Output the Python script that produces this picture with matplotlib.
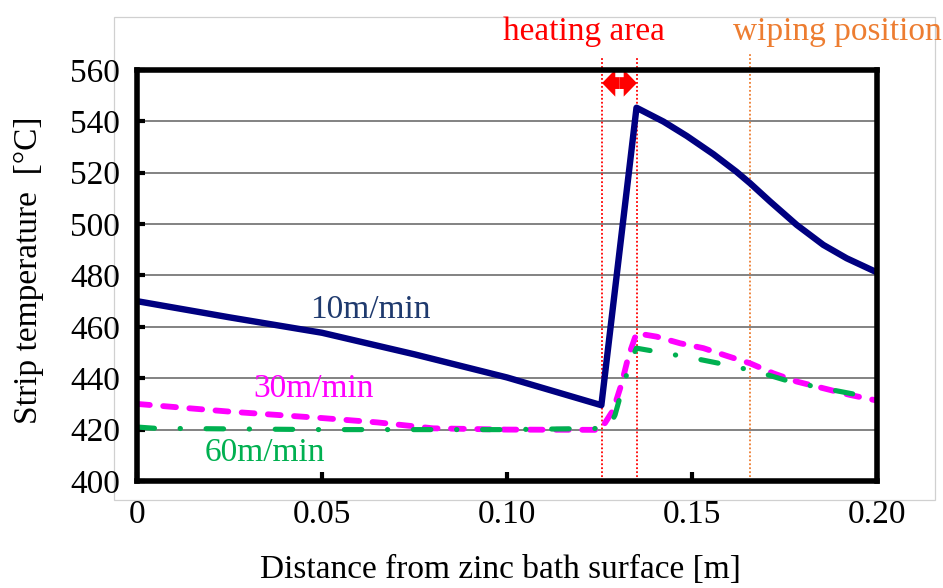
import matplotlib
matplotlib.use("Agg")
import matplotlib.pyplot as plt
from matplotlib.patches import Rectangle

plt.rcParams["font.family"] = ["Liberation Serif", "DejaVu Serif"]

# Strip temperature profiles above the zinc bath for three line speeds
x_10 = [0, 0.025, 0.05, 0.075, 0.1, 0.1255, 0.135, 0.1423, 0.1486, 0.1558, 0.162,
        0.1657, 0.1711, 0.1783, 0.1855, 0.1918, 0.2]
t_10 = [470, 463.7, 457.7, 449.3, 440.3, 429.5, 545.3, 539.9, 534.3, 527.2, 520.4,
        515.9, 508.8, 499.7, 491.9, 486.7, 481.2]

x_30 = [0, 0.025, 0.05, 0.065, 0.08, 0.1, 0.1253, 0.1287, 0.131, 0.1328, 0.135,
        0.1404, 0.1468, 0.1531, 0.1594, 0.1657, 0.172, 0.1783, 0.1855, 0.1927, 0.2]
t_30 = [430, 427, 424.5, 422.8, 420.5, 420, 419.9, 427.6, 438, 448.4, 457.5,
        456.2, 453.6, 451.7, 448.7, 445.8, 441.9, 438.7, 436.1, 433.5, 431.3]

x_60 = [0, 0.005, 0.05, 0.1, 0.1274, 0.1292, 0.1312, 0.1337, 0.135, 0.1418, 0.1504,
        0.1594, 0.1675, 0.1765, 0.1855, 0.1949, 0.2]
t_60 = [421, 420.5, 420, 420, 420.5, 425.7, 436.1, 447.8, 451.7, 450, 447.8,
        445.2, 442.6, 438.7, 436.1, 433.5, 432]

heating_start, heating_end = 0.1257, 0.1351
wiping_pos = 0.1657

x_ticks = [0, 0.05, 0.10, 0.15, 0.20]
x_tick_labels = ["0", "0.05", "0.10", "0.15", "0.20"]
y_ticks = [400, 420, 440, 460, 480, 500, 520, 540, 560]

NAVY = "#000080"
MAGENTA = "#FF00FF"
GREEN = "#00B050"
RED = "#FF0000"
ORANGE = "#ED7D31"
FS = 24

fig = plt.figure(figsize=(9.43, 5.88), dpi=100)
ax = fig.add_axes([0.1453, 0.182, 0.7847, 0.699])

# light chart-area frame
fig.add_artist(Rectangle((114 / 943, 1 - 500 / 588), (935 - 114) / 943, (500 - 17) / 588,
                         transform=fig.transFigure, fill=False, edgecolor="#d0d0d0",
                         lw=0.9, zorder=0))

for y in y_ticks[1:-1]:
    ax.axhline(y, color="#606060", lw=1.1, zorder=1)

# heating area and wiping position markers
for xv in (heating_start, heating_end):
    ax.axvline(xv, ymin=0, ymax=1.029, color=RED, lw=1.3, ls=(0, (1, 1.2)),
               clip_on=False, zorder=2)
ax.axvline(wiping_pos, ymin=0, ymax=1.039, color=ORANGE, lw=1.3, ls=(0, (1, 1.2)),
           clip_on=False, zorder=2)

mid = (heating_start + heating_end) / 2
arrow_y = 554.9
for end in (heating_start, heating_end):
    ax.annotate("", xy=(end, arrow_y), xytext=(mid, arrow_y),
                arrowprops=dict(arrowstyle="simple,head_length=0.95,head_width=1.95,tail_width=0.85",
                                color=RED, lw=0, shrinkA=0, shrinkB=0, mutation_scale=10),
                annotation_clip=False, zorder=5)

ax.plot(x_30, t_30, color=MAGENTA, lw=4.2, ls=(0, (2.2, 2.3)),
        dash_capstyle="round", solid_joinstyle="round", zorder=3)
ax.plot(x_60, t_60, color=GREEN, lw=3.7, ls=(0, (3.4, 5.0, 0.05, 5.0)),
        dash_capstyle="round", solid_joinstyle="round", zorder=3)
ax.plot(x_10, t_10, color=NAVY, lw=4.6, solid_joinstyle="round", zorder=4)

ax.set_xlim(0, 0.2)
ax.set_ylim(400, 560)
ax.set_xticks(x_ticks)
ax.set_xticklabels(x_tick_labels)
ax.set_yticks(y_ticks)

for s in ax.spines.values():
    s.set_linewidth(4.0)
    s.set_color("black")
    s.set_zorder(6)

ax.tick_params(axis="y", direction="in", length=6, width=3, labelsize=FS, pad=12)
ax.tick_params(axis="x", direction="in", length=6.5, width=3, labelsize=FS, pad=13)

fig.text(500 / 943, 1 - 578 / 588, "Distance from zinc bath surface [m]", fontsize=FS,
         ha="center", va="baseline")
fig.text(29 / 943, 1 - 270 / 588, "Strip temperature  [°C]", fontsize=FS,
         rotation=90, ha="center", va="center")

ax.text(0.0468, 463.5, "10m/min", color="#1F3A6E", fontsize=FS, ha="left", va="baseline")
ax.text(0.0314, 432.8, "30m/min", color=MAGENTA, fontsize=FS, ha="left", va="baseline")
ax.text(0.0184, 407.8, "60m/min", color=GREEN, fontsize=FS, ha="left", va="baseline")

fig.text(503 / 943, 1 - 40 / 588, "heating area", color=RED, fontsize=FS,
         ha="left", va="baseline")
fig.text(733 / 943, 1 - 40 / 588, "wiping position", color=ORANGE, fontsize=FS,
         ha="left", va="baseline")

fig.savefig("out.png", dpi=100, facecolor="white")
